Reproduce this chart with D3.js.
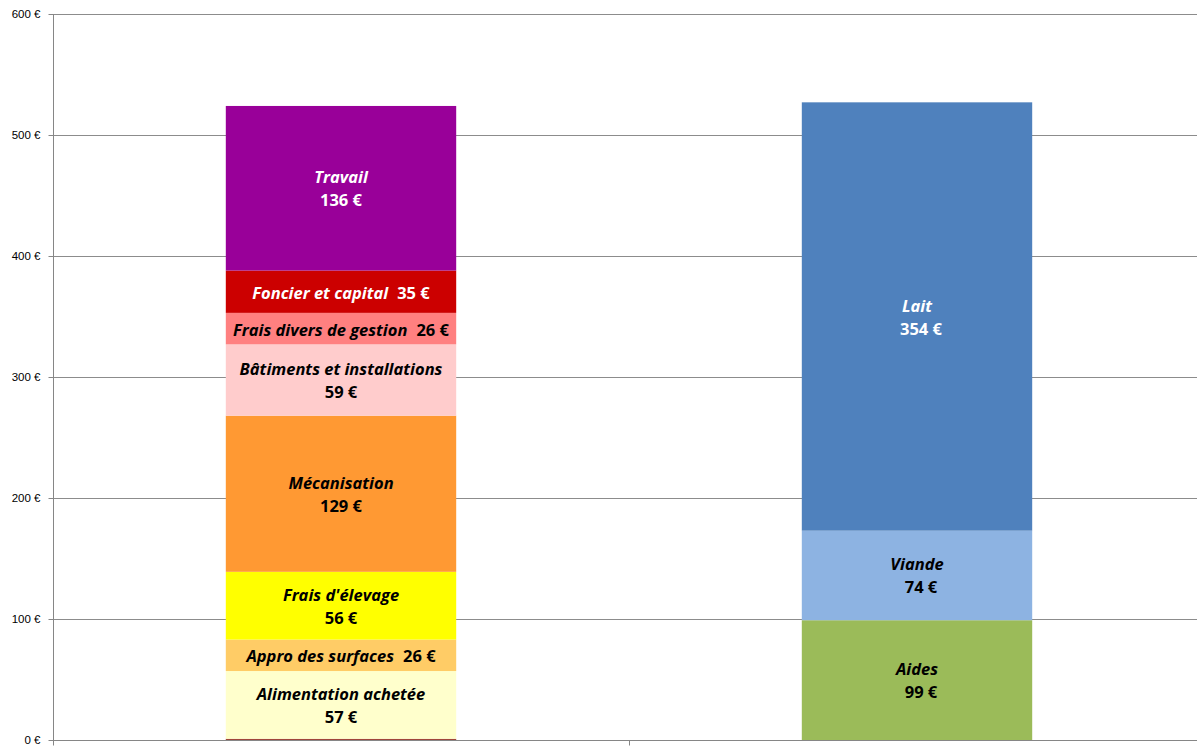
<!DOCTYPE html>
<html>
<head>
<meta charset="utf-8">
<script src="https://cdn.jsdelivr.net/npm/d3@7"></script>
<style>
    body { margin: 0; background: #fff; }
    svg { display: block; font-family: "Open Sans", Lato, sans-serif; }
    .grid line { stroke: #8c8c8c; stroke-width: 1; }
    .axis path, .axis line { stroke: #868686; }
    .axis text { font-size: 11.5px; fill: #000; }
    .segLabel { font-size: 16.5px; font-weight: bold; }
</style>
</head>
<body>
<div id="chart"></div>
<script>
'use strict';

// Categories (bars)
const categories = ['Coûts', 'Produits'];

// Cost stack (bottom to top)
const costNames = ['', 'Alimentation achetée', 'Appro des surfaces', "Frais d'élevage", 'Mécanisation',
    'Bâtiments et installations', 'Frais divers de gestion', 'Foncier et capital', 'Travail'];
const costValues = [1, 56, 26, 56, 129, 59, 26, 35, 136];
const costLabels = ['', '57 €', '26 €', '56 €', '129 €', '59 €', '26 €', '35 €', '136 €'];
const costColors = ['#a0463a', '#ffffcc', '#ffcc66', '#ffff00', '#ff9933', '#ffcccc', '#ff8080', '#cc0000', '#990099'];
const costText = ['#000', '#000', '#000', '#000', '#000', '#000', '#000', '#fff', '#fff'];

// Income stack (bottom to top)
const incomeNames = ['Aides', 'Viande', 'Lait'];
const incomeValues = [99, 74, 354];
const incomeLabels = ['99 €', '74 €', '354 €'];
const incomeColors = ['#9bbb59', '#8db3e2', '#4f81bd'];
const incomeText = ['#000', '#000', '#fff'];

// Y ticks
const yTicks = [0, 100, 200, 300, 400, 500, 600];

/* ---- build stacks ---- */
function stackOf(cat, names, values, labels, colors, text) {
    let acc = 0;
    return values.map((v, i) => {
        const d = {cat, name: names[i], value: v, label: labels[i], color: colors[i], text: text[i], y0: acc, y1: acc + v};
        acc += v;
        return d;
    });
}
const segments = stackOf(categories[0], costNames, costValues, costLabels, costColors, costText)
    .concat(stackOf(categories[1], incomeNames, incomeValues, incomeLabels, incomeColors, incomeText));

/* ---- config ---- */
const w = 1197, h = 747;
const margin = {top: 14, left: 53};
const plotW = 1152, plotH = 726;

const svg = d3.select('#chart').append('svg')
    .attr('width', w)
    .attr('height', h);

const g = svg.append('g')
    .attr('transform', `translate(${margin.left},${margin.top})`);

const x = d3.scaleBand()
    .domain(categories)
    .range([0, plotW])
    .paddingInner(0.6)
    .paddingOuter(0.3);

const y = d3.scaleLinear()
    .domain([0, 600])
    .range([plotH, 0]);

// Gridlines
g.append('g')
    .attr('class', 'grid')
    .selectAll('line')
    .data(yTicks.filter(t => t > 0))
    .join('line')
    .attr('x1', 0)
    .attr('x2', plotW)
    .attr('y1', d => Math.round(y(d)) + 0.5)
    .attr('y2', d => Math.round(y(d)) + 0.5);

// Bars
g.append('g')
    .selectAll('rect')
    .data(segments)
    .join('rect')
    .attr('x', d => x(d.cat))
    .attr('width', x.bandwidth())
    .attr('y', d => y(d.y1))
    .attr('height', d => y(d.y0) - y(d.y1))
    .attr('fill', d => d.color);

// Y axis
g.append('g')
    .attr('class', 'axis')
    .attr('transform', 'translate(0.5,0)')
    .call(d3.axisLeft(y).tickValues(yTicks).tickSize(5).tickSizeOuter(0).tickFormat(d => `${d} €`).tickPadding(8))
    .call(a => a.select('.domain').attr('d', `M0,0V${plotH + 5}`));

// X axis (category boundaries)
const xAxis = g.append('g')
    .attr('class', 'axis')
    .attr('transform', `translate(0,${plotH + 0.5})`);
xAxis.append('line')
    .attr('x1', 0).attr('x2', plotW);
const bounds = categories.map(c => x(c) - x.step() * x.paddingInner() / 2).concat([plotW]);
xAxis.selectAll('.tk')
    .data(bounds)
    .join('line')
    .attr('class', 'tk')
    .attr('x1', d => Math.round(d) + 0.5)
    .attr('x2', d => Math.round(d) + 0.5)
    .attr('y1', 0)
    .attr('y2', 5);

// Segment labels
const labelled = segments.filter(d => d.name !== '');
g.append('g')
    .selectAll('text')
    .data(labelled)
    .join('text')
    .attr('class', 'segLabel')
    .attr('text-anchor', 'middle')
    .attr('dominant-baseline', 'central')
    .attr('fill', d => d.text)
    .each(function (d) {
        const t = d3.select(this);
        const cx = x(d.cat) + x.bandwidth() / 2;
        const mid = (y(d.y0) + y(d.y1)) / 2;
        const hgt = y(d.y0) - y(d.y1);
        if (hgt < 50) {
            // single line
            t.attr('x', cx).attr('y', mid);
            t.append('tspan').attr('font-style', 'italic').text(d.name);
            t.append('tspan').attr('dx', 9).text(d.label);
        } else {
            t.append('tspan').attr('x', cx).attr('y', mid - 12)
                .attr('font-style', 'italic').text(d.name);
            t.append('tspan').attr('x', cx + (d.cat === categories[1] ? 4 : 0)).attr('y', mid + 11)
                .text(d.label);
        }
    });
</script>
</body>
</html>
